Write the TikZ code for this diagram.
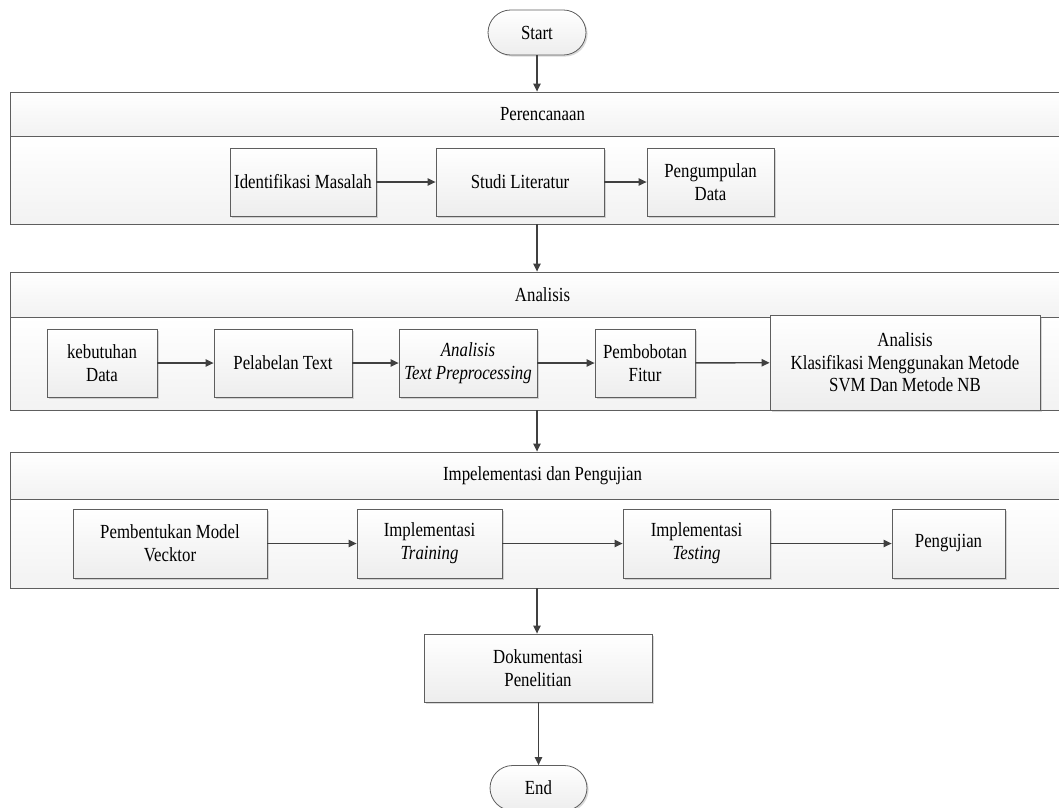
\documentclass[tikz,border=0pt]{standalone}
\usepackage{fontspec}
\setmainfont[FakeStretch=0.84]{Liberation Serif}
\usepackage{tikz}
\usetikzlibrary{arrows.meta,shadows}
\definecolor{linegray}{HTML}{404040}
\definecolor{boxgray}{HTML}{5E5E5E}

\begin{document}
\begin{tikzpicture}[x=0.75pt,y=-0.75pt,
  font=\fontsize{15}{17}\selectfont,
  box/.style={draw=boxgray,line width=0.6pt,top color=white,bottom color=gray!14,
    drop shadow={shadow xshift=1.2pt,shadow yshift=-1.2pt,opacity=0.3},
    align=center,inner sep=2pt},
  lane/.style={draw=boxgray,line width=0.6pt,top color=white,bottom color=gray!10,
    minimum width=798.75pt,inner sep=0pt},
  term/.style={box,rounded corners=17pt,minimum height=33.75pt},
  arr/.style={draw=linegray,line width=1pt,-{Triangle[length=6pt,width=5.5pt]}}]
\clip (0,0) rectangle (1059,807);

% Start
\node[term,minimum width=73.5pt] (start) at (537,32.5) {Start};

% Perencanaan
\node[lane,minimum height=33pt] (plan) at (542.5,114) {Perencanaan};
\node[lane,minimum height=66pt] (planbody) at (542.5,180) {};
\node[box,minimum width=109.5pt,minimum height=51pt] (idmasalah) at (303,182) {Identifikasi Masalah};
\node[box,minimum width=126pt,minimum height=51pt] (studi) at (520,182) {Studi Literatur};
\node[box,minimum width=95.25pt,minimum height=51pt] (kumpul) at (710.5,182) {Pengumpulan\\Data};

% Analisis
\node[lane,minimum height=33.75pt] (anal) at (542.5,294.5) {Analisis};
\node[lane,minimum height=69.75pt] (analbody) at (542.5,363.5) {};
\node[box,minimum width=82.5pt,minimum height=51pt] (butuh) at (102,363) {kebutuhan\\Data};
\node[box,minimum width=103.5pt,minimum height=51pt] (label) at (283,363) {Pelabelan Text};
\node[box,minimum width=103.5pt,minimum height=51pt] (prepro) at (468,363) {\textit{Analisis}\\\textit{Text Preprocessing}};
\node[box,minimum width=75pt,minimum height=51pt] (bobot) at (645,363) {Pembobotan\\Fitur};
\node[box,minimum width=202.5pt,minimum height=71.25pt] (klasif) at (905,362.5) {Analisis\\Klasifikasi Menggunakan Metode\\SVM Dan Metode NB};

% Impelementasi dan Pengujian
\node[lane,minimum height=35.25pt] (impl) at (542.5,475.5) {Impelementasi dan Pengujian};
\node[lane,minimum height=66.75pt] (implbody) at (542.5,543.5) {};
\node[box,minimum width=145.5pt,minimum height=51.75pt] (vektor) at (170,543.5) {Pembentukan Model\\Vecktor};
\node[box,minimum width=108.75pt,minimum height=51.75pt] (train) at (429.5,543.5) {Implementasi\\\textit{Training}};
\node[box,minimum width=110.25pt,minimum height=51.75pt] (test) at (696.5,543.5) {Implementasi\\\textit{Testing}};
\node[box,minimum width=84.75pt,minimum height=51.75pt] (uji) at (948.5,543.5) {Pengujian};

% Dokumentasi dan End
\node[box,minimum width=171pt,minimum height=51pt] (doku) at (538,668) {Dokumentasi\\Penelitian};
\node[term,minimum width=72.75pt] (end) at (538.5,788) {End};

% alur
\draw[arr] (start) -- (start |- plan.north);
\draw[arr] (idmasalah) -- (studi);
\draw[arr] (studi) -- (kumpul);
\draw[arr] (start |- planbody.south) -- (start |- anal.north);
\draw[arr] (butuh) -- (label);
\draw[arr] (label) -- (prepro);
\draw[arr] (prepro) -- (bobot);
\draw[arr] (bobot) -- (klasif);
\draw[arr] (start |- analbody.south) -- (start |- impl.north);
\draw[arr] (vektor) -- (train);
\draw[arr] (train) -- (test);
\draw[arr] (test) -- (uji);
\draw[arr] (start |- implbody.south) -- (start |- doku.north);
\draw[arr] (doku.south -| end) -- (end);
\end{tikzpicture}
\end{document}
